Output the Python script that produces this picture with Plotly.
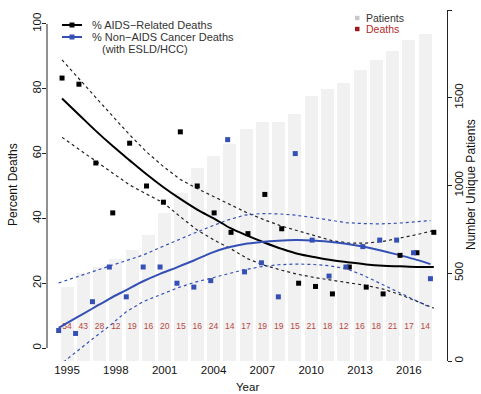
import plotly.graph_objects as go

# ---------------- data ----------------
years = list(range(1995, 2018))
patients = [422, 502, 536, 582, 633, 719, 844, 958, 1101, 1169, 1238, 1323,
            1363, 1363, 1409, 1512, 1552, 1586, 1660, 1717, 1768, 1831, 1865]
deaths = [54, 43, 28, 12, 19, 16, 20, 15, 16, 24, 14, 17,
          19, 19, 15, 21, 18, 12, 16, 18, 21, 17, 14]

aids_pct = [83.3, 81.4, 57.1, 41.7, 63.2, 50.0, 45.0, 66.7, 50.0, 41.7, 35.7, 35.3,
            47.4, 36.8, 20.0, 19.0, 16.7, 25.0, 18.8, 16.7, 28.6, 29.4, 35.7]
cancer_pct = [5.4, 4.5, 14.3, 25.0, 15.8, 25.0, 25.0, 20.0, 18.8, 20.8, 64.3, 23.5,
              26.3, 15.8, 60.0, 33.3, 22.2, 25.0, 31.3, 33.3, 33.3, 29.4, 21.4]

aids_fit = [77.0, 72.0, 67.0, 62.3, 57.9, 53.6, 49.6, 46.0, 42.7, 39.9, 36.9, 34.6,
            32.5, 30.6, 29.0, 28.0, 27.1, 26.4, 25.8, 25.4, 25.2, 25.0, 25.0]
aids_hi = [88.9, 83.0, 77.2, 71.5, 65.8, 60.5, 56.0, 52.0, 49.2, 46.6, 44.0, 41.6,
           39.5, 37.6, 36.1, 34.5, 33.1, 32.4, 32.4, 32.9, 33.9, 35.0, 36.3]
aids_lo = [65.0, 61.3, 57.5, 53.8, 50.3, 47.5, 44.8, 40.5, 36.4, 33.3, 30.6, 27.5,
           25.5, 24.0, 22.7, 21.7, 21.0, 20.1, 19.3, 18.2, 16.5, 14.4, 12.3]

cancer_fit = [6.2, 9.2, 12.2, 15.2, 17.9, 20.6, 22.9, 24.9, 27.0, 29.3, 31.0, 32.1,
              32.7, 33.1, 33.3, 33.2, 32.8, 32.2, 31.3, 30.2, 28.9, 27.5, 25.9]
cancer_hi = [20.1, 21.8, 23.5, 25.1, 26.8, 28.7, 31.0, 33.3, 35.4, 37.5, 39.5, 41.0,
             41.5, 41.4, 41.0, 40.3, 39.4, 38.7, 38.4, 38.3, 38.5, 38.8, 39.3]
cancer_lo = [-5.5, -1.3, 2.8, 6.8, 11.2, 14.3, 16.5, 18.5, 20.2, 21.6, 23.0, 24.2,
             25.1, 25.7, 25.9, 25.8, 25.4, 24.5, 22.5, 20.1, 17.5, 15.0, 12.5]

year_ticks = [1995, 1998, 2001, 2004, 2007, 2010, 2013, 2016]

# ---------------- style ----------------
BLACK = "#000000"
BLUE = "#3550b4"
BAR = "#f1f1f1"
RED = "#b8483f"
FONT = "Liberation Sans, Arial, sans-serif"
blue_shift = -0.2   # blue series drawn slightly left of the black one
cyears = [y + blue_shift for y in years]

fig = go.Figure()

# bars (patients) on base subplot x / y (right axis)
fig.add_trace(go.Bar(x=years, y=patients, marker_color=BAR, marker_line_width=0,
                     width=0.8, xaxis="x", yaxis="y", showlegend=False))
# death counts
fig.add_trace(go.Scatter(x=years, y=[192] * len(years), mode="text",
                         text=[str(d) for d in deaths],
                         textfont=dict(size=8.5, color=RED, family=FONT),
                         xaxis="x", yaxis="y", showlegend=False))

dash = "3px,3px"
# CI lines
for arr in (aids_hi, aids_lo):
    fig.add_trace(go.Scatter(x=years, y=arr, mode="lines",
                             line=dict(color="#222222", width=1.2, dash=dash),
                             xaxis="x2", yaxis="y2", showlegend=False))
for arr in (cancer_hi, cancer_lo):
    fig.add_trace(go.Scatter(x=cyears, y=arr, mode="lines",
                             line=dict(color=BLUE, width=1.2, dash=dash),
                             xaxis="x2", yaxis="y2", showlegend=False))
# fits
fig.add_trace(go.Scatter(x=years, y=aids_fit, mode="lines", line=dict(color=BLACK, width=2),
                         line_shape="spline", xaxis="x2", yaxis="y2", showlegend=False))
fig.add_trace(go.Scatter(x=cyears, y=cancer_fit, mode="lines", line=dict(color=BLUE, width=2),
                         line_shape="spline", xaxis="x2", yaxis="y2", showlegend=False))
# points
fig.add_trace(go.Scatter(x=years, y=aids_pct, mode="markers",
                         marker=dict(symbol="square", size=5, color=BLACK),
                         xaxis="x2", yaxis="y2", showlegend=False))
fig.add_trace(go.Scatter(x=cyears, y=cancer_pct, mode="markers",
                         marker=dict(symbol="square", size=5, color=BLUE),
                         xaxis="x2", yaxis="y2", showlegend=False))

# ---------------- layout ----------------
L, R, T, B = 47, 34, 10, 33
W, H = 481, 394
pw, ph = W - L - R, H - T - B


def px(xp):
    return (xp - L) / pw


def py(yp):
    return (H - B - yp) / ph


tickfont = dict(size=11.5, color="#111111", family=FONT)
fig.update_layout(
    width=W, height=H, margin=dict(l=L, r=R, t=T, b=B),
    plot_bgcolor="white", paper_bgcolor="white", showlegend=False,
    bargap=0,
    xaxis=dict(range=[1993.77, 2018.34], tickvals=year_ticks, ticks="",
               showline=False, showgrid=False, zeroline=False,
               tickfont=tickfont),
    xaxis2=dict(range=[1994.11, 2017.78], overlaying="x", visible=False),
    yaxis=dict(range=[0, 2000], side="right", tickvals=[0, 500, 1000, 1500, 2000],
               ticks="outside", ticklen=4, tickcolor="#222", showline=True,
               linecolor="#222", linewidth=1, showgrid=False, zeroline=False,
               tickangle=-90, tickfont=tickfont, ticklabelstandoff=-3),
    yaxis2=dict(range=[-4.0, 104.3], overlaying="y", side="left",
                tickvals=[0, 20, 40, 60, 80, 100], ticks="outside", ticklen=4,
                tickcolor="#222", showline=False, showgrid=False, zeroline=False,
                tickangle=-90, tickfont=tickfont, ticklabelstandoff=-4),
)

# left axis line (0..100 bracket)
fig.add_shape(type="line", xref="paper", yref="y2", x0=0, x1=0, y0=0, y1=100,
              line=dict(color="#222", width=1))


def note(text, x, y, font, angle=0, xanchor="center"):
    return dict(text=text, x=px(x), y=py(y), xref="paper", yref="paper",
                xanchor=xanchor, yanchor="middle", textangle=angle,
                showarrow=False, font=font)


ann = []
tf = dict(size=12, color="#111", family=FONT)
ann.append(note("Percent Deaths", 13, 185, tf, angle=-90))
ann.append(note("Number Unique Patients", 471, 185, tf, angle=-90))
ann.append(note("Year", 247, 387, dict(size=11.5, color="#111", family=FONT)))

# left legend
lf = dict(size=11, color="#333333", family=FONT)
ann.append(note("% AIDS\u2212Related Deaths", 90, 25, lf, xanchor="left"))
ann.append(note("% Non\u2212AIDS Cancer Deaths", 90, 37, lf, xanchor="left"))
ann.append(note("(with ESLD/HCC)", 100, 49, lf, xanchor="left"))
for yy, col in ((25, BLACK), (37, BLUE)):
    fig.add_shape(type="line", xref="paper", yref="paper", x0=px(62), x1=px(82),
                  y0=py(yy), y1=py(yy), line=dict(color=col, width=2))
    fig.add_shape(type="rect", xref="paper", yref="paper", x0=px(69.5), x1=px(74.5),
                  y0=py(yy - 2.5), y1=py(yy + 2.5), line=dict(width=0), fillcolor=col)

# right legend
rf = dict(size=10.5, family=FONT)
ann.append(note("Patients", 364, 18, dict(color="#333333", **rf), xanchor="left"))
ann.append(note("Deaths", 364, 29, dict(color="#b22a2a", **rf), xanchor="left"))
for yy, col in ((18, "#c8c8c8"), (29, "#a01818")):
    fig.add_shape(type="rect", xref="paper", yref="paper", x0=px(355), x1=px(359.5),
                  y0=py(yy - 2.2), y1=py(yy + 2.2), line=dict(width=0), fillcolor=col)

fig.update_layout(annotations=ann)
fig.write_html("out.html", config={"displayModeBar": False},
               post_script="document.body.style.margin='0';document.body.style.padding='0';")
